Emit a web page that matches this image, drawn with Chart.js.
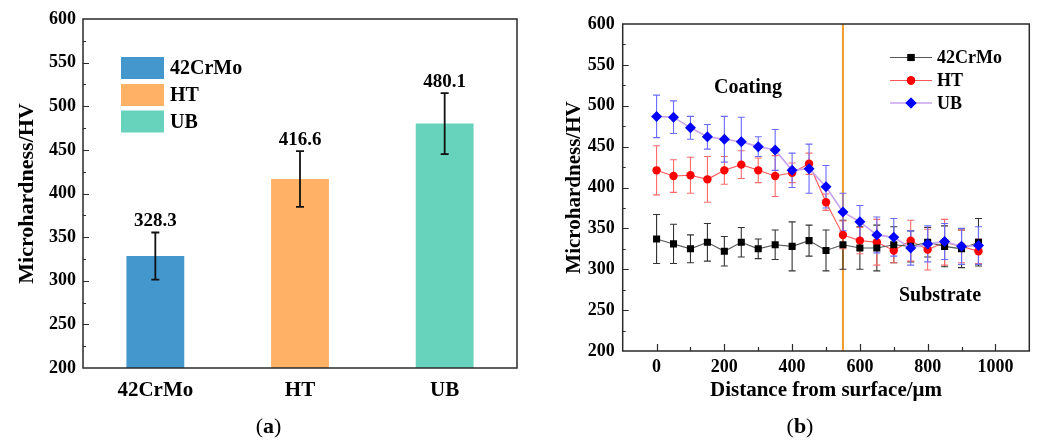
<!DOCTYPE html>
<html><head><meta charset="utf-8">
<script src="https://cdn.jsdelivr.net/npm/chart.js@4/dist/chart.umd.min.js"></script>
<style>
html,body{margin:0;padding:0;background:#fff;}
#wrap{position:relative;width:1038px;height:441px;overflow:hidden;background:#fff;}
#c1{position:absolute;left:0;top:0;}
#c2{position:absolute;left:520px;top:0;}
</style></head><body>
<div id="wrap"><canvas id="c1" width="520" height="441"></canvas><canvas id="c2" width="518" height="441"></canvas></div>
<script>
const SERIF = '"Liberation Serif","Times New Roman",serif';

// ---- panel (a) data ----
const barCategories = ['42CrMo', 'HT', 'UB'];
const barValues = [328.3, 416.6, 480.1];
const barErrors = [27, 32, 35];
const barColors = ['#4397cd', '#ffb266', '#68d3bc'];

// ---- panel (b) data ----
const depth = [0, 50, 100, 150, 200, 250, 300, 350, 400, 450, 500, 550, 600, 650, 700, 750, 800, 850, 900, 950];
const crValues = [337, 331, 325, 333, 322, 333, 325, 330, 328, 335, 323, 330, 326, 326, 330, 328, 333, 328, 325, 333];
const crErrors = [30, 24, 17, 23, 18, 18, 12, 18, 30, 19, 25, 30, 26, 28, 22, 19, 18, 25, 23, 29];
const htValues = [421, 414, 415, 410, 421, 428, 421, 414, 418, 429, 382, 342, 335, 333, 323, 335, 324, 333, 328, 322];
const htErrors = [30, 20, 22, 28, 17, 17, 15, 25, 12, 13, 10, 17, 16, 28, 15, 25, 25, 28, 20, 15];
const ubValues = [487, 486, 473, 462, 459, 456, 450, 446, 421, 423, 401, 370, 358, 342, 339, 326, 331, 334, 328, 329];
const ubErrors = [26, 20, 14, 15, 28, 30, 12, 25, 21, 30, 26, 23, 20, 22, 23, 21, 22, 22, 22, 23];
const seriesNames = ['42CrMo', 'HT', 'UB'];
const boundaryDepth = 550;
const xTickValues = [0, 200, 400, 600, 800, 1000];
const xMinorValues = [100, 300, 500, 700, 900];

function drawCaption(ctx, cx, cy, letter) {
  ctx.save();
  ctx.fillStyle = '#000';
  ctx.textBaseline = 'middle';
  const fr = '22px ' + SERIF, fb = 'bold 22px ' + SERIF;
  ctx.font = fr; const wp = ctx.measureText('(').width;
  ctx.font = fb; const wl = ctx.measureText(letter).width;
  let x = cx - (wp * 2 + wl) / 2;
  ctx.font = fr; ctx.textAlign = 'left'; ctx.fillText('(', x, cy); x += wp;
  ctx.font = fb; ctx.fillText(letter, x, cy); x += wl;
  ctx.font = fr; ctx.fillText(')', x, cy);
  ctx.restore();
}

function frameAndTicks(chart, xTicksMajor, xTicksMinor) {
  const {ctx, chartArea: a} = chart;
  const ys = chart.scales.y;
  ctx.save();
  ctx.strokeStyle = '#2a2a2a';
  ctx.lineWidth = 1.5;
  ctx.strokeRect(a.left, a.top, a.right - a.left, a.bottom - a.top);
  ctx.lineWidth = 1.2;
  ctx.beginPath();
  for (let v = ys.min + 25; v < ys.max; v += 25) {
    const p = Math.round(ys.getPixelForValue(v)) + 0.5;
    const len = (v % 50 === 0) ? 6 : 3;
    ctx.moveTo(a.left, p); ctx.lineTo(a.left + len, p);
  }
  if (xTicksMajor) {
    const xs = chart.scales.x;
    xTicksMajor.forEach(v => { const p = Math.round(xs.getPixelForValue(v)) + 0.5; ctx.moveTo(p, a.bottom); ctx.lineTo(p, a.bottom - 7); });
    xTicksMinor.forEach(v => { const p = Math.round(xs.getPixelForValue(v)) + 0.5; ctx.moveTo(p, a.bottom); ctx.lineTo(p, a.bottom - 4); });
  }
  ctx.stroke();
  ctx.restore();
}

// ---------- Chart (a) ----------
const barPlugin = {
  id: 'barExtras',
  afterDatasetsDraw(chart) {
    const {ctx} = chart;
    const ys = chart.scales.y;
    const meta = chart.getDatasetMeta(0);
    ctx.save();
    ctx.strokeStyle = '#111';
    ctx.lineWidth = 1.8;
    ctx.fillStyle = '#000';
    ctx.font = 'bold 19px ' + SERIF;
    ctx.textAlign = 'center';
    ctx.textBaseline = 'middle';
    barValues.forEach((v, i) => {
      const x = meta.data[i].x;
      const t = ys.getPixelForValue(v + barErrors[i]);
      const b = ys.getPixelForValue(v - barErrors[i]);
      ctx.beginPath();
      ctx.moveTo(x, t); ctx.lineTo(x, b);
      ctx.moveTo(x - 4, t); ctx.lineTo(x + 4, t);
      ctx.moveTo(x - 4, b); ctx.lineTo(x + 4, b);
      ctx.stroke();
      ctx.fillText(v.toFixed(1), x, t - 11);
    });
    ctx.restore();
  },
  afterDraw(chart) {
    const {ctx} = chart;
    frameAndTicks(chart, null, null);
    ctx.save();
    ctx.font = 'bold 20px ' + SERIF;
    ctx.textAlign = 'left';
    ctx.textBaseline = 'middle';
    const rows = [68, 95, 121.5];
    barCategories.forEach((c, i) => {
      ctx.fillStyle = barColors[i];
      ctx.fillRect(121, rows[i] - 11, 43, 22);
      ctx.fillStyle = '#000';
      ctx.fillText(c, 170, rows[i] + 1);
    });
    ctx.restore();
    drawCaption(ctx, 268.5, 427, 'a');
  }
};

new Chart(document.getElementById('c1'), {
  type: 'bar',
  data: {
    labels: barCategories,
    datasets: [{
      data: barValues,
      backgroundColor: barColors,
      borderWidth: 0,
      barPercentage: 0.4,
      categoryPercentage: 1
    }]
  },
  options: {
    responsive: false,
    animation: false,
    layout: {padding: {top: 19, right: 3, left: 0, bottom: 0}},
    plugins: {legend: {display: false}, tooltip: {enabled: false}},
    scales: {
      x: {
        grid: {display: false, drawTicks: false},
        border: {display: false},
        ticks: {font: {family: SERIF, weight: 'bold', size: 21}, color: '#000', padding: 10},
        afterFit(s) { s.height = 73; }
      },
      y: {
        min: 200, max: 600,
        grid: {display: false, drawTicks: false},
        border: {display: false},
        ticks: {stepSize: 50, font: {family: SERIF, weight: 'bold', size: 18}, color: '#000', padding: 7},
        title: {display: true, text: 'Microhardness/HV', font: {family: SERIF, weight: 'bold', size: 22}, color: '#000', padding: {top: 14, bottom: 0}},
        afterFit(s) { s.width = 83; }
      }
    }
  },
  plugins: [barPlugin]
});

// ---------- Chart (b) ----------
const seriesStyles = [
  {line: '#555555', fill: '#000000', err: '#333333', style: 'rect', radius: 5},
  {line: '#ff5555', fill: '#ff0000', err: '#ff6a6a', style: 'circle', radius: 4.2},
  {line: '#c9a2ee', fill: '#0000ff', err: '#6a6aff', style: 'rectRot', radius: 5.5}
];
const seriesValues = [crValues, htValues, ubValues];
const seriesErrors = [crErrors, htErrors, ubErrors];

const profilePlugin = {
  id: 'profileExtras',
  beforeDatasetsDraw(chart) {
    const {ctx, chartArea: a} = chart;
    const xs = chart.scales.x, ys = chart.scales.y;
    ctx.save();
    const bx = xs.getPixelForValue(boundaryDepth);
    ctx.strokeStyle = '#f29b2a';
    ctx.lineWidth = 2;
    ctx.beginPath(); ctx.moveTo(bx, a.top); ctx.lineTo(bx, a.bottom); ctx.stroke();
    ctx.lineWidth = 1.1;
    [0, 1, 2].forEach(k => {
      ctx.strokeStyle = seriesStyles[k].err;
      ctx.beginPath();
      depth.forEach((d, i) => {
        const x = xs.getPixelForValue(d);
        const t = ys.getPixelForValue(seriesValues[k][i] + seriesErrors[k][i]);
        const b = ys.getPixelForValue(seriesValues[k][i] - seriesErrors[k][i]);
        ctx.moveTo(x, t); ctx.lineTo(x, b);
        ctx.moveTo(x - 3.5, t); ctx.lineTo(x + 3.5, t);
        ctx.moveTo(x - 3.5, b); ctx.lineTo(x + 3.5, b);
      });
      ctx.stroke();
    });
    ctx.restore();
  },
  afterDraw(chart) {
    const {ctx} = chart;
    frameAndTicks(chart, xTickValues, xMinorValues);
    ctx.save();
    ctx.fillStyle = '#000';
    ctx.font = 'bold 20px ' + SERIF;
    ctx.textAlign = 'center';
    ctx.textBaseline = 'middle';
    ctx.fillText('Coating', 228, 88);
    ctx.fillText('Substrate', 420, 296);
    const rows = [57.5, 80.5, 103];
    ctx.font = 'bold 18px ' + SERIF;
    ctx.textAlign = 'left';
    seriesNames.forEach((n, i) => {
      const st = seriesStyles[i];
      ctx.strokeStyle = st.line;
      ctx.lineWidth = i === 2 ? 1.6 : 1.1;
      ctx.beginPath(); ctx.moveTo(370, rows[i]); ctx.lineTo(412, rows[i]); ctx.stroke();
      ctx.fillStyle = st.fill;
      Chart.helpers.drawPoint(ctx, {pointStyle: st.style, radius: st.radius, borderWidth: 0}, 391, rows[i]);
      ctx.fill();
      ctx.fillStyle = '#000';
      ctx.fillText(n, 417, rows[i] + 1);
    });
    ctx.restore();
    drawCaption(ctx, 280, 427, 'b');
  }
};

function makeSeries(k, order) {
  const st = seriesStyles[k];
  return {
    label: seriesNames[k],
    data: depth.map((d, i) => ({x: d, y: seriesValues[k][i]})),
    showLine: true,
    borderColor: st.line,
    borderWidth: k === 2 ? 1.6 : 1.1,
    pointStyle: st.style,
    pointRadius: st.radius,
    pointBackgroundColor: st.fill,
    pointBorderColor: st.fill,
    pointBorderWidth: 0,
    order: order
  };
}

new Chart(document.getElementById('c2'), {
  type: 'scatter',
  data: {datasets: [makeSeries(0, 1), makeSeries(1, 2), makeSeries(2, 0)]},
  options: {
    responsive: false,
    animation: false,
    layout: {padding: {top: 24, right: 8.7, left: 0, bottom: 0}},
    plugins: {legend: {display: false}, tooltip: {enabled: false}},
    scales: {
      x: {
        type: 'linear', min: -100, max: 1100,
        grid: {display: false, drawTicks: false},
        border: {display: false},
        afterBuildTicks(s) { s.ticks = xTickValues.map(v => ({value: v})); },
        ticks: {font: {family: SERIF, weight: 'bold', size: 18}, color: '#000', padding: 6, callback: v => String(v)},
        title: {display: true, text: 'Distance from surface/μm', font: {family: SERIF, weight: 'bold', size: 21}, color: '#000', padding: {top: 0, bottom: 38}},
        afterFit(s) { s.height = 90; }
      },
      y: {
        min: 200, max: 600,
        grid: {display: false, drawTicks: false},
        border: {display: false},
        ticks: {stepSize: 50, font: {family: SERIF, weight: 'bold', size: 18}, color: '#000', padding: 8},
        title: {display: true, text: 'Microhardness/HV', font: {family: SERIF, weight: 'bold', size: 21}, color: '#000', padding: {top: 42, bottom: 0}},
        afterFit(s) { s.width = 102.7; }
      }
    }
  },
  plugins: [profilePlugin]
});
</script>
</body></html>
